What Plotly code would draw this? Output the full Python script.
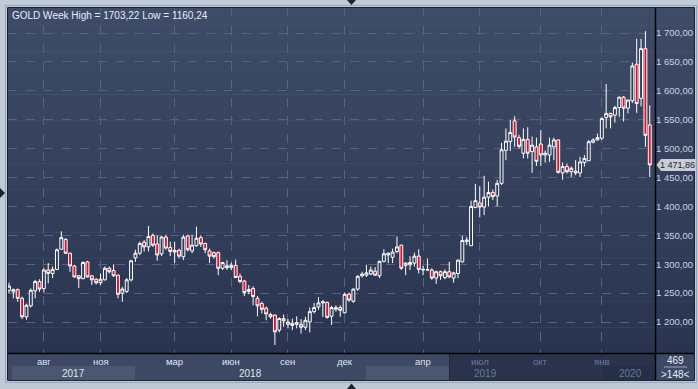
import plotly.graph_objects as go

# ---------------- data (weekly GOLD candles) ----------------
open_ = [1255,1252,1256,1241,1209,1228,1254,1270,1258,1290,1284,1291,1326,1343,1319,1297,1280,1275,1304,1280,
         1274,1268,1273,1293,1289,1281,1250,1253,1273,1311,1319,1338,1330,1350,1335,1318,1347,1329,1321,1324,
         1313,1349,1323,1332,1346,1336,1323,1320,1320,1293,1294,1294,1298,1279,1271,1253,1258,1241,1232,1224,
         1213,1212,1186,1206,1196,1198,1196,1196,1191,1200,1218,1226,1233,1234,1210,1225,1225,1216,1248,1236,
         1257,1280,1281,1283,1288,1280,1305,1316,1312,1322,1333,1298,1299,1302,1314,1290,1291,1290,1276,1287,
         1277,1287,1276,1284,1304,1339,1332,1398,1406,1399,1416,1424,1418,1440,1497,1512,1548,1519,1492,1516,
         1495,1503,1508,1489,1489,1503,1515,1458,1469,1460,1461,1458,1476,1479,1511,1515,1518,1554,1561,1558,
         1571,1589,1570,1583,1646,1587,1673,1541]
high = [1268,1258,1258,1244,1232,1258,1273,1274,1293,1302,1296,1327,1357,1345,1320,1299,1281,1305,1306,1281,
        1276,1284,1296,1296,1300,1282,1261,1276,1307,1325,1339,1342,1366,1353,1350,1349,1351,1339,1339,1327,
        1351,1351,1351,1365,1350,1337,1327,1322,1322,1304,1307,1303,1308,1284,1273,1264,1262,1245,1235,1227,
        1216,1213,1208,1213,1205,1206,1210,1205,1209,1225,1233,1243,1238,1235,1228,1229,1229,1251,1251,1258,
        1281,1287,1299,1296,1295,1306,1326,1320,1327,1348,1334,1303,1314,1320,1326,1297,1310,1293,1289,1289,
        1291,1304,1287,1308,1349,1347,1410,1439,1435,1453,1443,1429,1446,1510,1535,1550,1556,1524,1535,1537,
        1521,1519,1532,1497,1519,1519,1516,1476,1474,1469,1480,1486,1489,1515,1518,1526,1554,1612,1562,1574,
        1590,1591,1585,1649,1690,1690,1703.22,1575]
low = [1250,1241,1235,1205,1204,1225,1241,1252,1251,1267,1276,1290,1325,1318,1287,1277,1259,1274,1277,1264,
       1265,1264,1272,1284,1278,1241,1235,1250,1270,1304,1316,1322,1322,1330,1306,1314,1325,1314,1302,1310,
       1307,1322,1319,1330,1330,1319,1302,1310,1281,1290,1290,1290,1276,1267,1245,1248,1229,1210,1215,1203,
       1206,1160.24,1182,1192,1189,1186,1189,1180,1186,1182,1215,1221,1209,1206,1195,1218,1209,1215,1235,1233,
       1254,1277,1278,1281,1280,1276,1303,1302,1302,1319,1290,1281,1290,1296,1284,1281,1289,1273,1266,1273,
       1274,1276,1268,1276,1303,1333,1332,1397,1381,1385,1400,1411,1400,1437,1480,1496,1503,1500,1483,1483,
       1458,1470,1470,1476,1477,1480,1457,1446,1457,1451,1454,1451,1469,1479,1509,1514,1515,1535,1535,1545,
       1555,1547,1561,1579,1562,1573,1503,1451]
close = [1262,1256,1241,1209,1229,1255,1270,1257,1290,1284,1291,1325,1346,1319,1297,1278,1275,1303,1278,1273,
         1268,1274,1293,1287,1280,1248,1257,1273,1306,1319,1336,1330,1348,1333,1316,1347,1328,1322,1324,1314,
         1347,1325,1333,1345,1335,1325,1314,1313,1293,1303,1297,1298,1277,1270,1251,1256,1244,1228,1222,1214,
         1209,1183,1206,1202,1200,1194,1199,1191,1203,1218,1225,1233,1235,1208,1225,1222,1220,1248,1238,1257,
         1279,1283,1285,1290,1281,1305,1318,1319,1321,1330,1293,1302,1303,1314,1291,1291,1290,1276,1287,1280,
         1287,1278,1285,1307,1341,1342,1400,1410,1399,1416,1424,1417,1440,1498,1513,1528,1520,1504,1516,1492,
         1506,1478,1489,1492,1506,1515,1459,1469,1460,1466,1458,1477,1483,1512,1515,1519,1552,1561,1555,1571,
         1589,1570,1584,1643,1578,1673,1523,1471.86]

tick_idx = [8, 21, 38, 51, 64, 77, 95, 108, 122, 136]
month_labels = ["авг", "ноя", "мар", "июн", "сен", "дек", "апр", "июл", "окт", "янв"]
year_labels = ["2017", "2018", "2019", "2020"]
price_ticks = [1200, 1250, 1300, 1350, 1400, 1450, 1500, 1550, 1600, 1650, 1700]
total_bars = 469

idx = list(range(len(close)))

# ---------------- geometry helpers (pixel -> paper) ----------------
W, H = 698, 389
L, R, T, B = 8, 655, 8, 353


def px(x):
    return (x - L) / (R - L)


def py(y):
    return (B - y) / (B - T)


def rect(x0, y0, x1, y1, color, line=None):
    d = dict(type="rect", xref="paper", yref="paper", x0=px(x0), x1=px(x1), y0=py(y1), y1=py(y0),
             fillcolor=color, layer="below")
    d["line"] = line if line else dict(width=0)
    return d


def tri(points, color):
    path = "M " + " L ".join(f"{px(a):.5f},{py(b):.5f}" for a, b in points) + " Z"
    return dict(type="path", xref="paper", yref="paper", path=path, fillcolor=color,
                line=dict(width=0), layer="above")


def lerp(c0, c1, t):
    return "rgb(" + ",".join(str(round(a + (b - a) * t)) for a, b in zip(c0, c1)) + ")"


shapes = []
# gradient background of chart + right axis panel
top_c, bot_c = (62, 76, 104), (42, 52, 80)
n = 40
for i in range(n):
    y0 = T + (B - T) * i / n
    y1 = T + (B - T) * (i + 1) / n + 0.6
    shapes.append(rect(L, y0, 694, y1, lerp(top_c, bot_c, (i + 0.5) / n)))

# bottom time axis panel
shapes.append(rect(L, B, 694, 380.5, "#3c4864"))
shapes.append(rect(12, 366, 135, 380, "#4b5771"))
shapes.append(rect(366, 366, 449, 380, "#4b5771"))
shapes.append(rect(450, B, 655, 380.5, "#29334c"))
shapes.append(rect(603, 366, 655, 380.5, "#252f47"))
shapes.append(dict(type="line", xref="paper", yref="paper", x0=px(449.5), x1=px(449.5), y0=py(353), y1=py(380.5),
                   line=dict(color="#222a3c", width=1), layer="below"))

# separators
shapes.append(dict(type="line", xref="paper", yref="paper", x0=px(655.5), x1=px(655.5), y0=py(8), y1=py(380.5),
                   line=dict(color="#000000", width=1.5), layer="above"))
shapes.append(dict(type="line", xref="paper", yref="paper", x0=px(8), x1=px(694), y0=py(353.5), y1=py(353.5),
                   line=dict(color="#000000", width=1.5), layer="above"))
# panel border
shapes.append(dict(type="rect", xref="paper", yref="paper", x0=px(7.5), x1=px(694.5), y0=py(380.5), y1=py(7.5),
                   line=dict(color="#1a2233", width=1), fillcolor="rgba(0,0,0,0)", layer="above"))
shapes.append(dict(type="rect", xref="paper", yref="paper", x0=px(5.5), x1=px(696.5), y0=py(382.5), y1=py(5.5),
                   line=dict(color="#97a5b8", width=1), fillcolor="rgba(0,0,0,0)", layer="below"))
# counter box divider
shapes.append(dict(type="line", xref="paper", yref="paper", x0=px(664), x1=px(687), y0=py(367), y1=py(367),
                   line=dict(color="#9aa6ba", width=1), layer="above"))

# scroll arrows
shapes.append(tri([(347, 0), (356, 0), (351.5, 5)], "#1a2233"))
shapes.append(tri([(347, 389), (356, 389), (351.5, 383.5)], "#1a2233"))
shapes.append(tri([(0, 188), (0, 198), (5, 193)], "#1a2233"))

# last-price tag (box + arrow)
last = close[-1]
ppu = (B - T) / (1743.3 - 1146.4)
shapes.append(dict(type="path", xref="paper", yref="y",
                   path=f"M {px(656.5):.5f},{last} L {px(661):.5f},{last + 6 / ppu:.4f} "
                        f"L {px(695):.5f},{last + 6 / ppu:.4f} L {px(695):.5f},{last - 6 / ppu:.4f} "
                        f"L {px(661):.5f},{last - 6 / ppu:.4f} Z",
                   fillcolor="#c9cdd4", line=dict(width=0), layer="above"))

fig = go.Figure()
fig.add_trace(go.Candlestick(
    x=idx, open=open_, high=high, low=low, close=close,
    increasing=dict(line=dict(color="#ffffff", width=1), fillcolor="#2f3a56"),
    decreasing=dict(line=dict(color="#ffffff", width=1), fillcolor="#e0112e"),
    whiskerwidth=0, hoverinfo="skip", showlegend=False,
))


def fmt(v):
    s = f"{v:,.2f}"
    return s.replace(",", " ").replace(".", ",")


ann = []
ann.append(dict(xref="paper", yref="paper", x=px(10), y=py(15.5), xanchor="left", yanchor="middle",
                text=f"GOLD Week High = {max(high):.2f} Low = {min(low):.2f}".replace(".", ","),
                showarrow=False, font=dict(size=10, color="#e6edf7")))
for t, lab in zip(tick_idx, month_labels):
    xpix = 9 + 4.36 * t
    col = "#dfe6f0" if xpix < 450 else "#6c7a93"
    ann.append(dict(xref="x", yref="paper", x=t, y=py(361), xanchor="center", yanchor="middle",
                    text=lab, showarrow=False, font=dict(size=9.5, color=col)))
year_x = [73, 251, 485, 630]
for xp, lab in zip(year_x, year_labels):
    col = "#dfe6f0" if xp < 450 else "#6c7a93"
    ann.append(dict(xref="paper", yref="paper", x=px(xp), y=py(373.5), xanchor="center", yanchor="middle",
                    text=lab, showarrow=False, font=dict(size=10, color=col)))
ann.append(dict(xref="paper", yref="paper", x=px(675), y=py(360), xanchor="center", yanchor="middle",
                text=str(total_bars), showarrow=False, font=dict(size=10, color="#e6edf7")))
ann.append(dict(xref="paper", yref="paper", x=px(675), y=py(374), xanchor="center", yanchor="middle",
                text=f"&gt;{len(close)}&lt;", showarrow=False, font=dict(size=10, color="#e6edf7")))
ann.append(dict(xref="paper", yref="y", x=px(677.5), y=last, xanchor="center", yanchor="middle",
                text=fmt(last), showarrow=False, borderpad=0,
                font=dict(size=9, color="#1e2430")))

fig.update_layout(
    width=W, height=H,
    margin=dict(l=L, r=W - R, t=T, b=H - B, pad=0, autoexpand=False),
    paper_bgcolor="#c0cad7", plot_bgcolor="rgba(0,0,0,0)",
    separators=", ",
    font=dict(family="Liberation Sans, Arial, sans-serif", size=9.5, color="#c8d3e6"),
    boxgap=0.05,
    shapes=shapes, annotations=ann,
    xaxis=dict(range=[-0.23, 148.2], tickvals=tick_idx, showticklabels=False, showgrid=True,
               gridcolor="#56647f", griddash="dash", gridwidth=1, zeroline=False, showline=False,
               rangeslider=dict(visible=False), fixedrange=True, automargin=False),
    yaxis=dict(range=[1146.4, 1743.3], side="right", tickvals=price_ticks, tickformat=",.2f",
               showgrid=True, gridcolor="#56647f", griddash="dash", gridwidth=1, zeroline=False,
               showline=False, ticks="", ticklen=0, automargin=False,
               tickfont=dict(size=9.5, color="#c8d3e6"), fixedrange=True),
    hovermode=False,
)

fig.write_html(
    "out.html",
    config={"displayModeBar": False, "staticPlot": True},
    post_script="document.body.style.margin='0';document.body.style.padding='0';"
                "document.documentElement.style.overflow='hidden';document.body.style.overflow='hidden';",
)
